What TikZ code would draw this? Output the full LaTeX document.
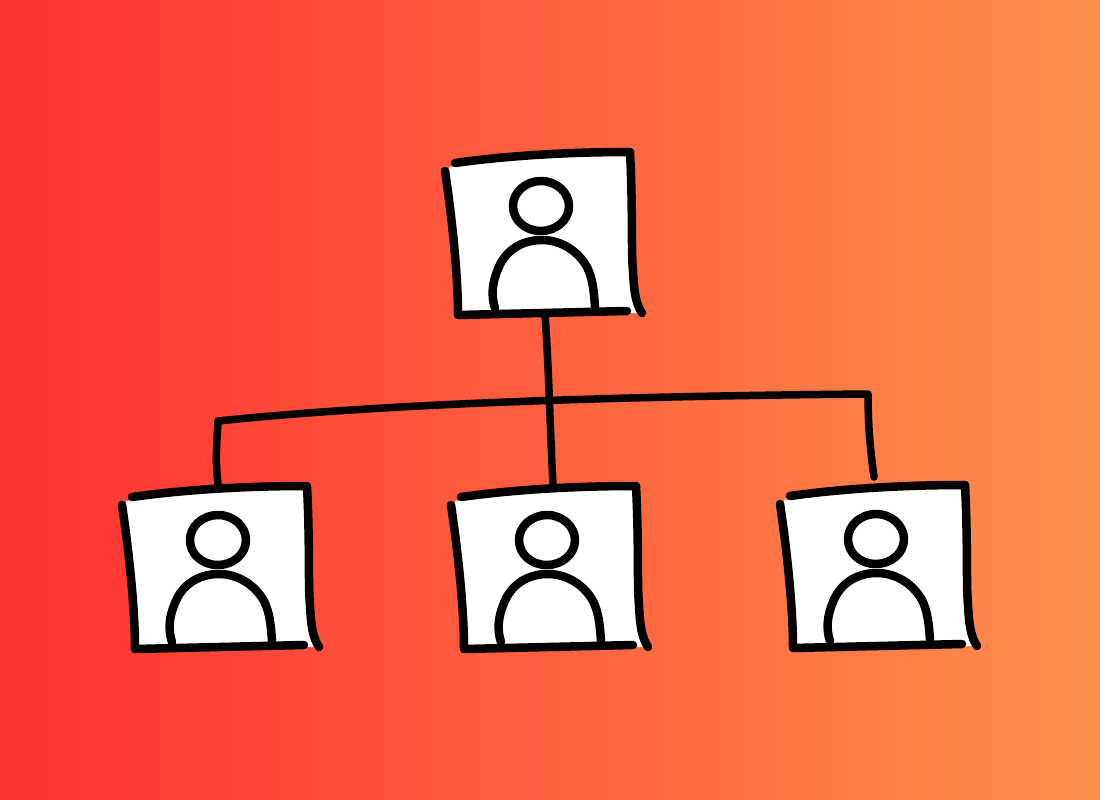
\documentclass[tikz,border=0pt]{standalone}
\definecolor{hotred}{RGB}{255,49,49}
\definecolor{softorange}{RGB}{255,145,77}
\tikzset{
    inkline/.style={line width=8.5pt, line cap=round, line join=round, black},
    thinink/.style={line width=7.5pt, line cap=round, line join=round, black},
    card/.pic={
        % Paper
        \fill[white] (4,-4) .. controls (60,-15) and (130,-18) .. (185,-19) -- (188,100) .. controls (189,125) and (192,135) .. (197,142) -- (13,144) -- cycle;
        % Head and shoulders
        \draw[inkline] (96,10) .. controls (112,10) and (124,22) .. (124,35) .. controls (124,50) and (110,60) .. (96,60) .. controls (80,60) and (68,49) .. (68,35) .. controls (68,21) and (81,10) .. (96,10) -- cycle;
        \draw[inkline] (50,137) .. controls (46,125) and (47,112) .. (53,98) .. controls (60,80) and (76,69) .. (97,69) .. controls (116,69) and (133,80) .. (142,96) .. controls (148,108) and (149,122) .. (150,136);
        % Four rough sides
        \draw[inkline] (10,-8) .. controls (60,-15) and (120,-19) .. (185,-19) .. controls (188,40) and (186,80) .. (188,100) .. controls (189,122) and (191,133) .. (197,142);
        \draw[inkline] (0,0) .. controls (6,40) and (13,100) .. (13,144) -- (182,140);
    }
}
\begin{document}
\begin{tikzpicture}[x=1pt, y=-1pt]
    % Background
    \path[use as bounding box, left color=hotred, right color=softorange] (0,0) rectangle (1100,800);
    % Ends of the connectors
    \coordinate (bossfoot) at (545,315);
    \coordinate (busleft) at (218,421);
    \coordinate (busright) at (868,394);
    \coordinate (leftcard) at (218,484);
    \coordinate (midcard) at (553,484);
    \coordinate (rightcard) at (874,477);
    % Connectors
    \draw[thinink] (bossfoot) .. controls (549,370) and (550,430) .. (midcard);
    \draw[thinink] (leftcard) .. controls (215,460) and (217,440) .. (busleft) .. controls (400,402) and (650,396) .. (busright) .. controls (868,430) and (871,455) .. (rightcard);
    % Cards
    \foreach \x/\y/\n in {445/171/boss, 122/505/left, 451/505/mid, 780/504/right} {
        \pic (\n) at (\x,\y) {card};
    }
\end{tikzpicture}
\end{document}
